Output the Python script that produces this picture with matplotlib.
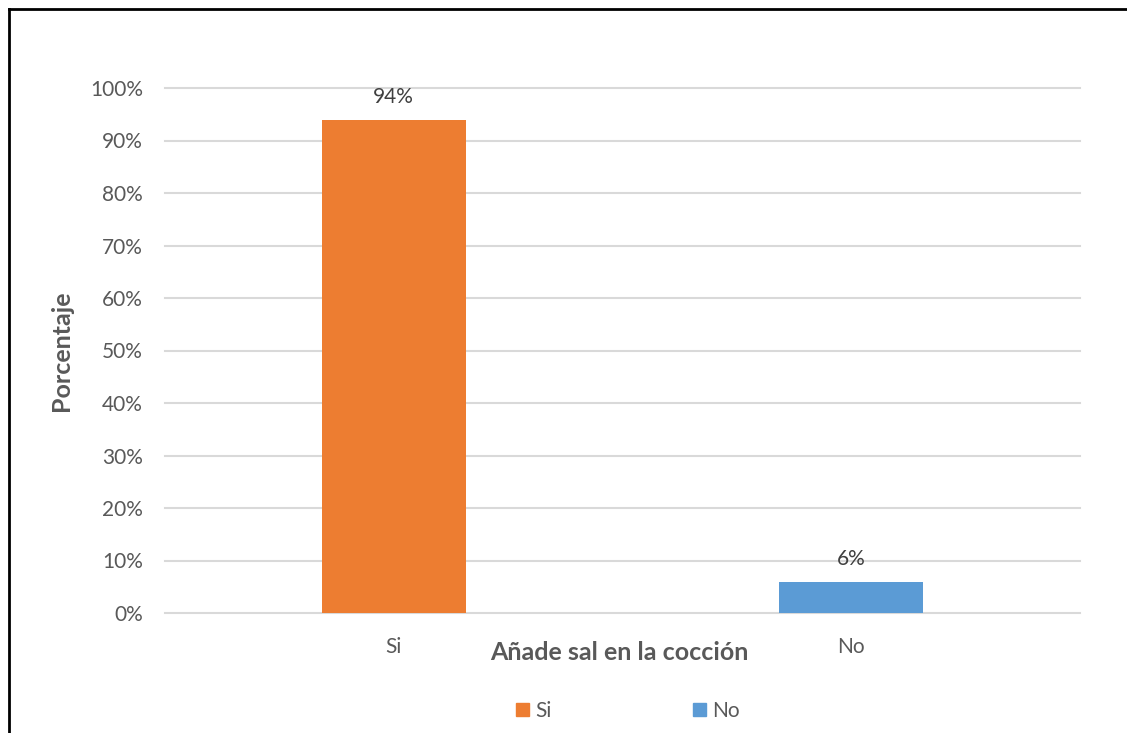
import matplotlib.pyplot as plt
from matplotlib.lines import Line2D
from matplotlib.patches import Patch

plt.rcParams['font.family'] = ['Lato', 'DejaVu Sans']

# Survey answers
categories = ['Si', 'No']
percentages = [94, 6]
bar_colors = ['#ED7D31', '#5B9BD5']
yticks = list(range(0, 101, 10))

text_gray = '#595959'

fig = plt.figure(figsize=(11.27, 7.33), dpi=100)
ax = fig.add_axes([165 / 1127, 1 - 613 / 733, 915 / 1127, 525 / 733])

x = range(len(categories))
bars = ax.bar(x, percentages, width=0.315, color=bar_colors, zorder=3)

for xi, v in zip(x, percentages):
    ax.text(xi, v + 4.3, f'{v}%', ha='center', va='center',
            fontsize=15, color='#404040')

ax.set_xlim(-0.5, 1.5)
ax.set_ylim(0, 100)
ax.set_yticks(yticks)
ax.set_yticklabels([f'{t}%' for t in yticks])
ax.set_xticks(list(x))
ax.set_xticklabels(categories)
ax.tick_params(axis='both', length=0, labelsize=15, colors=text_gray)
ax.tick_params(axis='y', pad=16)
ax.tick_params(axis='x', pad=17)
ax.grid(axis='y', color='#d9d9d9', linewidth=1.5, zorder=0)
for gl in ax.get_ygridlines():
    gl.set_clip_on(False)
ax.set_axisbelow(True)
for s in ax.spines.values():
    s.set_visible(False)

ax.set_ylabel('Porcentaje', fontsize=18, fontweight='bold', color=text_gray, labelpad=12)
fig.text(619 / 1127, 1 - 652 / 733, 'Añade sal en la cocción', ha='center', va='center',
         fontsize=18, fontweight='bold', color=text_gray)

handles = [Patch(color=c, label=l) for c, l in zip(bar_colors, categories)]
fig.legend(handles=handles, loc='center', bbox_to_anchor=(628 / 1127, 1 - 711 / 733),
           ncol=2, frameon=False, fontsize=15, labelcolor=text_gray,
           handlelength=0.6, handleheight=0.6, handletextpad=0.3, columnspacing=6.8)

# outer frame (left and top edges)
fig.add_artist(Line2D([9 / 1127, 9 / 1127], [0, 1 - 9 / 733], color='black', lw=2))
fig.add_artist(Line2D([9 / 1127, 1], [1 - 9 / 733, 1 - 9 / 733], color='black', lw=2))

fig.savefig('out.png', dpi=100)
